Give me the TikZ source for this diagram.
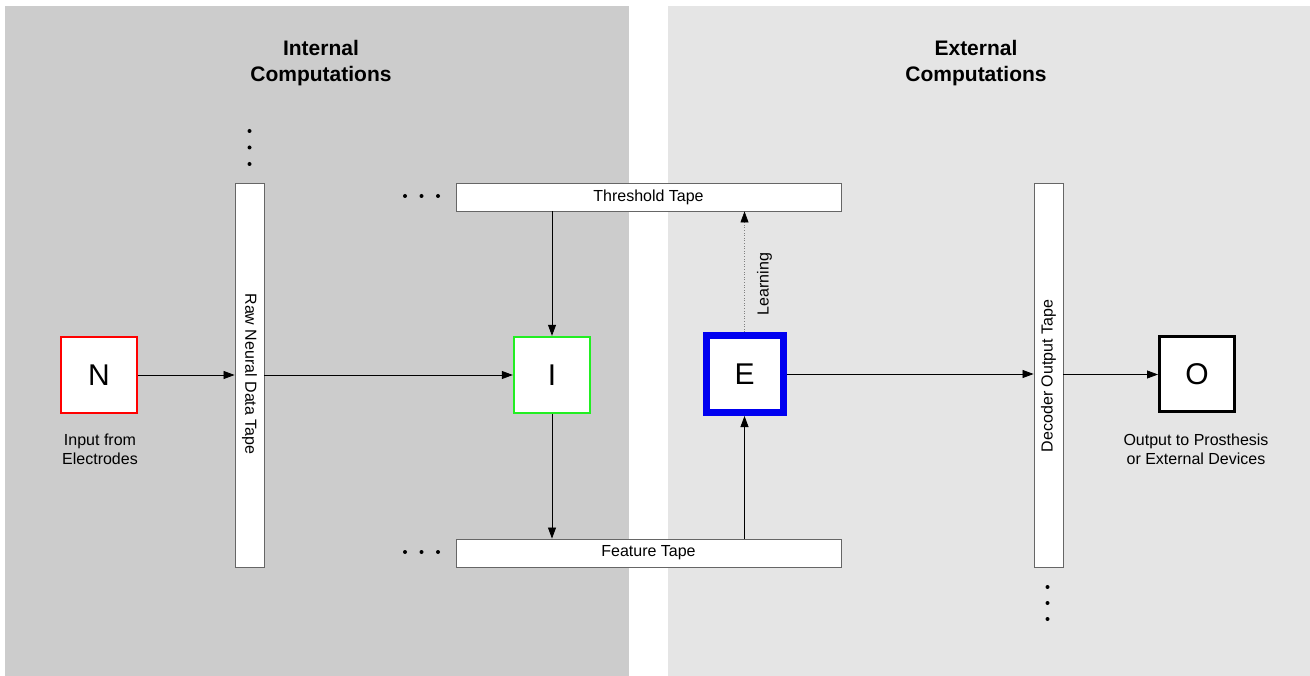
\documentclass[tikz,border=0pt]{standalone}
\usepackage{fontspec}
\setmainfont{Liberation Sans}
\usetikzlibrary{arrows.meta}
\definecolor{leftbg}{HTML}{CCCCCC}
\definecolor{rightbg}{HTML}{E5E5E5}
\definecolor{tapeborder}{HTML}{666666}
\definecolor{gbox}{HTML}{22EE22}
\definecolor{bbox}{HTML}{0000F0}
\tikzset{
  tape/.style={draw=tapeborder, fill=white, line width=0.9pt, inner sep=0pt, font=\fontsize{16}{18}\selectfont},
  vtape/.style={tape, minimum width=29pt, minimum height=384pt},
  htape/.style={tape, minimum width=385pt, minimum height=28pt},
  sq/.style={fill=white, inner sep=0pt, font=\fontsize{30}{32}\selectfont},
  lbl/.style={align=center, font=\fontsize{16}{19}\selectfont, inner sep=0pt},
  title/.style={align=center, font=\bfseries\fontsize{21}{26}\selectfont, inner sep=0pt},
  conn/.style={-{Triangle[length=11pt,width=8pt]}, line width=0.8pt},
  learnconn/.style={-{Triangle[length=11pt,width=8pt,color=black]}, line width=0.6pt, dotted, draw=gray},
  dotmark/.style={circle, fill=black, inner sep=0pt, minimum size=4pt},
}
\begin{document}
\begin{tikzpicture}[x=1pt,y=-1pt]
\useasboundingbox (0,0) rectangle (1310,676);
\fill[white] (0,0) rectangle (1310,676);
\fill[leftbg] (5,6) rectangle (629,676);
\fill[rightbg] (668,6) rectangle (1310,676);

\node[title] (tint) at (321,63) {Internal\\Computations};
\node[title] (text) at (976,63) {External\\Computations};

% tapes
\node[vtape] (raw) at (249.5,375) {};
\node[rotate=-90, font=\fontsize{16}{18}\selectfont] (rawl) at (249.5,374) {Raw Neural Data Tape};
\node[vtape] (dec) at (1048.5,375) {};
\node[rotate=90, font=\fontsize{16}{18}\selectfont] (decl) at (1048.5,376) {Decoder Output Tape};
\node[htape] (thr) at (648.5,197) {Threshold Tape};
\node[htape] (feat) at (648.5,553) {Feature Tape};

% boxes
\node[sq, draw=red, line width=2.4pt, minimum size=76pt] (N) at (99,375) {N};
\node[sq, draw=gbox, line width=2.4pt, minimum size=76pt] (I) at (552,375) {I};
\node[sq, draw=bbox, line width=7pt, minimum size=77pt] (E) at (744.5,374) {E};
\node[sq, draw=black, line width=3pt, minimum size=75pt] (O) at (1197,374.5) {O};

\node[lbl] (nl) at (100,449) {Input from\\Electrodes};
\node[lbl] (ol) at (1196,449) {Output to Prosthesis\\or External Devices};

% dots
\node[dotmark] (d1) at (249.5,131) {};
\node[dotmark] (d2) at (249.5,147.5) {};
\node[dotmark] (d3) at (249.5,164) {};
\node[dotmark] (t1) at (405,196) {};
\node[dotmark] (t2) at (421.5,196) {};
\node[dotmark] (t3) at (438,196) {};
\node[dotmark] (f1) at (405,552) {};
\node[dotmark] (f2) at (421.5,552) {};
\node[dotmark] (f3) at (438,552) {};
\node[dotmark] (b1) at (1047.5,587) {};
\node[dotmark] (b2) at (1047.5,603) {};
\node[dotmark] (b3) at (1047.5,619) {};

% connectors
\draw[conn] (N.east) -- (raw.west |- N.east);
\draw[conn] (raw.east |- I.west) -- (I.west);
\draw[conn] (thr.south -| I.north) -- (I.north);
\draw[conn] (I.south) -- (feat.north -| I.south);
\draw[conn] (feat.north -| E.south) -- (E.south);
\draw[learnconn] (E.north) -- (thr.south -| E.north);
\draw[conn] (E.east) -- (dec.west |- E.east);
\draw[conn] (dec.east |- O.west) -- (O.west);
\node[rotate=90, font=\fontsize{16}{18}\selectfont] (learn) at (764.5,284) {Learning};
\end{tikzpicture}
\end{document}
